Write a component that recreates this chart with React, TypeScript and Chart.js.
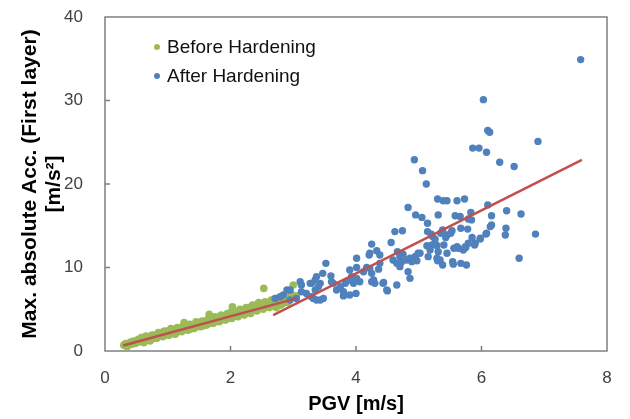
import React, { useEffect, useRef } from "react";
import { Chart, registerables } from "chart.js";

Chart.register(...registerables);

// ---- Data ----
const beforeX = [
  0.30, 0.33, 0.36, 0.38, 0.40, 0.43, 0.46, 0.50, 0.53, 0.55, 0.56, 0.60, 0.63, 0.66, 0.68, 0.70,
  0.73, 0.76, 0.78, 0.80, 0.83, 0.86, 0.88, 0.90, 0.93, 0.96, 0.98, 1.00, 1.03, 1.06, 1.08, 1.10,
  1.13, 1.16, 1.18, 1.20, 1.23, 1.26, 1.28, 1.30, 1.33, 1.36, 1.38, 1.40, 1.43, 1.46, 1.48, 1.50,
  1.53, 1.56, 1.58, 1.60, 1.63, 1.66, 1.68, 1.70, 1.73, 1.76, 1.78, 1.80, 1.83, 1.86, 1.88, 1.90,
  1.93, 1.96, 1.98, 2.00, 2.03, 2.06, 2.08, 2.10, 2.13, 2.16, 2.18, 2.20, 2.23, 2.26, 2.28, 2.30,
  2.33, 2.36, 2.38, 2.40, 2.43, 2.46, 2.48, 2.50, 2.53, 2.56, 2.58, 2.60, 2.63, 2.66, 2.68, 2.70,
  2.73, 2.76, 2.78, 2.80, 2.85, 2.88, 2.90, 2.95, 3.00, 3.05,
  0.35, 0.42, 0.48, 0.52, 0.58, 0.62, 0.65, 0.72, 0.75, 0.82, 0.85, 0.92, 0.95, 1.02, 1.05, 1.12,
  1.15, 1.22, 1.25, 1.32, 1.35, 1.42, 1.45, 1.52, 1.55, 1.62, 1.65, 1.72, 1.75, 1.82, 1.85, 1.92,
  1.95, 2.02, 2.05, 2.12, 2.15, 2.22, 2.25, 2.32, 2.35, 2.42, 2.45, 2.52, 2.55, 2.62, 2.65, 2.72,
  2.75, 2.82, 2.87, 2.92, 2.97,
];
const beforeY = [
  0.7, 0.9, 0.6, 0.8, 1.0, 0.8, 1.2, 1.0, 1.4, 1.3, 1.1, 1.5, 1.2, 1.6, 1.4, 1.3,
  1.8, 1.5, 1.7, 1.9, 1.6, 2.0, 2.1, 1.8, 2.3, 1.9, 2.2, 2.4, 2.0, 2.5, 2.3, 2.1,
  2.6, 2.3, 2.5, 2.8, 2.4, 3.4, 2.9, 2.7, 3.0, 2.6, 2.9, 3.1, 2.8, 3.3, 3.1, 3.0,
  3.5, 3.0, 3.3, 3.6, 3.2, 4.4, 3.7, 3.4, 3.9, 3.5, 3.8, 4.0, 3.6, 4.2, 4.0, 3.8,
  4.3, 3.9, 4.2, 4.6, 5.3, 4.2, 4.5, 4.7, 4.3, 4.9, 4.6, 4.5, 5.0, 4.6, 4.9, 5.2,
  4.8, 5.4, 5.1, 4.9, 5.6, 5.1, 5.3, 5.5, 7.5, 5.3, 5.6, 5.8, 5.4, 6.0, 5.7, 5.6,
  5.2, 5.9, 5.8, 5.5, 6.1, 6.0, 5.8, 6.4, 7.9, 6.6,
  0.5, 1.1, 0.9, 1.2, 1.6, 1.0, 1.8, 1.2, 1.9, 1.5, 2.2, 1.7, 2.4, 1.9, 2.7, 2.0,
  2.8, 2.3, 3.0, 2.5, 3.2, 2.7, 3.5, 2.9, 3.6, 3.1, 3.9, 3.3, 4.1, 3.5, 4.3, 3.7,
  4.5, 3.9, 4.8, 4.1, 5.0, 4.3, 5.2, 4.5, 5.5, 4.8, 5.8, 5.0, 5.9, 5.2, 6.1, 5.4,
  6.3, 5.6, 6.5, 5.9, 6.8,
];

const afterX = [
  7.58, 6.03, 6.10, 6.13, 6.90, 5.86, 5.96, 6.08, 4.93, 6.29, 6.52, 5.06, 5.12, 5.30, 5.39, 5.45,
  5.61, 5.73, 4.83, 6.10, 6.40, 4.95, 5.05, 5.31, 5.58, 5.66, 5.83, 5.79, 5.84, 6.16, 6.63, 5.14,
  4.62, 4.74, 5.14, 5.38, 5.45, 5.53, 5.67, 5.78, 6.14, 6.39, 6.38, 6.86, 6.07, 5.98, 5.85, 4.25,
  4.56, 5.22, 5.13, 5.21, 5.29, 5.40, 5.56, 5.61, 5.71, 5.75, 5.89, 6.60, 4.33, 4.21, 4.01, 4.66,
  4.70, 4.75, 4.81, 4.86, 4.94, 4.99, 4.97, 5.15, 5.29, 5.31, 5.45, 5.30, 5.38, 5.54, 5.55, 5.67,
  5.76, 4.59, 4.65, 4.70, 3.52, 4.01, 4.17, 4.25, 4.36, 4.83, 4.86, 3.90, 3.93, 4.01, 4.06, 4.25,
  4.43, 4.65, 4.50, 3.80, 4.00, 3.64, 3.75, 3.83, 3.11, 3.27, 3.37, 3.40, 3.32, 3.43, 3.48, 3.21,
  3.35, 4.12, 4.30, 3.35, 3.43, 3.29, 3.13, 3.61, 3.90, 3.96, 3.69, 3.80, 3.90, 3.13, 3.29, 3.37,
  2.95, 2.84, 2.90, 2.71, 2.79, 2.95, 3.05, 4.28, 4.44, 4.49, 4.22, 4.38, 4.73, 4.89, 5.02, 5.18,
  5.26, 5.34, 5.63, 5.74, 5.79, 5.90, 5.98, 6.08, 6.16, 5.20, 5.26, 5.35, 5.43, 5.51, 4.22, 4.38,
  3.47, 3.60,
];
const afterY = [
  34.9, 30.1, 26.4, 26.2, 25.1, 24.3, 24.3, 23.8, 22.9, 22.6, 22.1, 21.6, 20.0, 18.2, 18.0, 18.0,
  18.0, 18.2, 17.2, 17.5, 16.8, 16.3, 16.0, 16.3, 16.2, 16.1, 16.6, 15.8, 15.7, 16.2, 16.4, 15.3,
  14.3, 14.4, 14.3, 14.5, 13.9, 14.4, 14.7, 14.6, 14.9, 14.7, 13.9, 14.0, 14.0, 13.4, 13.6, 12.8,
  13.0, 13.7, 12.6, 12.7, 12.6, 12.7, 12.3, 12.5, 12.1, 12.4, 12.7, 11.1, 12.0, 11.5, 11.1, 11.9,
  11.3, 11.6, 10.9, 11.1, 11.3, 11.7, 10.8, 11.3, 11.1, 11.9, 11.7, 10.8, 10.3, 10.7, 10.4, 10.5,
  10.3, 10.9, 10.5, 10.1, 10.5, 10.0, 10.0, 9.3, 9.8, 9.5, 8.7, 9.7, 8.9, 8.7, 8.3, 8.3,
  8.1, 7.9, 7.2, 6.6, 6.9, 8.1, 7.7, 8.1, 8.3, 8.1, 8.9, 7.7, 6.3, 6.1, 6.3, 6.9,
  7.3, 9.5, 8.1, 8.5, 8.1, 8.1, 7.9, 8.3, 8.5, 8.1, 7.3, 7.1, 6.7, 7.1, 6.5, 6.1,
  7.3, 6.7, 7.3, 6.3, 6.5, 6.1, 6.3, 8.5, 8.2, 7.3, 9.9, 10.5, 10.7, 10.7, 11.7, 12.1,
  12.9, 10.9, 12.3, 12.5, 12.9, 12.9, 13.5, 14.1, 15.1, 14.0, 13.4, 14.1, 13.6, 14.1, 11.7, 11.5,
  9.3, 9.0,
];

const fitBeforeX = [0.29, 3.05];
const fitBeforeY = [0.65, 6.3];
const fitAfterX = [2.68, 7.6];
const fitAfterY = [4.3, 22.9];

const seriesNames = ["Before Hardening", "After Hardening"];
const xTitle = "PGV [m/s]";
const yTitle = ["Max. absolute Acc. (First layer)", "[m/s\u00B2]"];

const GREEN = "#9BBB59";
const BLUE = "#4F81BD";
const RED = "#C0504D";
const AXIS = "#7f7f7f";
const FONT = "'Liberation Sans', Arial, sans-serif";

const toPts = (xs: number[], ys: number[]) => xs.map((x, i) => ({ x, y: ys[i] }));

const framePlugin = {
  id: "frameTicks",
  beforeDatasetsDraw(chart: any) {
    const { ctx, chartArea: a, scales } = chart;
    ctx.save();
    ctx.strokeStyle = AXIS;
    ctx.lineWidth = 1.5;
    ctx.strokeRect(a.left, a.top, a.right - a.left, a.bottom - a.top);
    ctx.beginPath();
    scales.x.ticks.forEach((t: any) => {
      if (t.value > scales.x.min && t.value < scales.x.max) {
        const px = scales.x.getPixelForValue(t.value);
        ctx.moveTo(px, a.bottom);
        ctx.lineTo(px, a.bottom - 5);
      }
    });
    scales.y.ticks.forEach((t: any) => {
      if (t.value > scales.y.min && t.value < scales.y.max) {
        const py = scales.y.getPixelForValue(t.value);
        ctx.moveTo(a.left, py);
        ctx.lineTo(a.left + 5, py);
      }
    });
    ctx.stroke();
    ctx.restore();
  },
};

const legendPlugin = {
  id: "insideLegend",
  afterDraw(chart: any) {
    const { ctx, chartArea: a } = chart;
    ctx.save();
    ctx.font = `19px ${FONT}`;
    ctx.textBaseline = "middle";
    ctx.textAlign = "left";
    seriesNames.forEach((name, i) => {
      const ds = chart.data.datasets.find((d: any) => d.label === name);
      if (!ds) return;
      const cx = a.left + 52;
      const cy = a.top + 30 + i * 29;
      ctx.fillStyle = ds.backgroundColor;
      ctx.beginPath();
      ctx.arc(cx, cy, 3, 0, Math.PI * 2);
      ctx.fill();
      ctx.fillStyle = "#111";
      ctx.fillText(ds.label, cx + 10, cy + 1);
    });
    ctx.restore();
  },
};

export default function App() {
  const ref = useRef<HTMLCanvasElement | null>(null);
  useEffect(() => {
    if (!ref.current) return;
    const chart = new Chart(ref.current, {
      type: "scatter",
      data: {
        datasets: [
          {
            label: "fit1",
            data: toPts(fitBeforeX, fitBeforeY),
            showLine: true,
            borderColor: RED,
            borderWidth: 2.5,
            pointRadius: 0,
            backgroundColor: RED,
            order: 0,
          } as any,
          {
            label: "fit2",
            data: toPts(fitAfterX, fitAfterY),
            showLine: true,
            borderColor: RED,
            borderWidth: 2.5,
            pointRadius: 0,
            backgroundColor: RED,
            order: 0,
          },
          {
            label: seriesNames[0],
            data: toPts(beforeX, beforeY),
            backgroundColor: GREEN,
            borderColor: GREEN,
            borderWidth: 0,
            pointRadius: 3.8,
            order: 2,
          },
          {
            label: seriesNames[1],
            data: toPts(afterX, afterY),
            backgroundColor: BLUE,
            borderColor: BLUE,
            borderWidth: 0,
            pointRadius: 3.7,
            order: 1,
          },
        ],
      },
      options: {
        animation: false,
        responsive: false,
        maintainAspectRatio: false,
        layout: { padding: { top: 17, right: 23, left: 0, bottom: 0 } },
        plugins: {
          legend: { display: false },
          tooltip: { enabled: false },
        },
        scales: {
          x: {
            type: "linear",
            min: 0,
            max: 8,
            ticks: {
              stepSize: 2,
              padding: 17,
              color: "#404040",
              font: { family: FONT, size: 17 },
              maxRotation: 0,
            },
            grid: { display: false, drawTicks: false },
            border: { display: false },
            title: {
              display: true,
              text: xTitle,
              color: "#000",
              font: { family: FONT, size: 20, weight: "bold", lineHeight: 1.2 },
              padding: { top: 0, bottom: 3 },
            },
            afterFit: (s: any) => {
              s.height = 68;
              s.paddingLeft = 0;
              s.paddingRight = 0;
            },
          },
          y: {
            type: "linear",
            min: 0,
            max: 40,
            ticks: {
              stepSize: 10,
              padding: 22,
              color: "#404040",
              font: { family: FONT, size: 17 },
            },
            grid: { display: false, drawTicks: false },
            border: { display: false },
            title: {
              display: true,
              text: yTitle,
              color: "#000",
              font: { family: FONT, size: 21, weight: "bold", lineHeight: 1.15 },
              padding: { top: 18, bottom: 0 },
            },
            afterFit: (s: any) => {
              s.width = 105;
              s.paddingTop = 0;
              s.paddingBottom = 0;
            },
          },
        },
      },
      plugins: [framePlugin, legendPlugin],
    });
    return () => chart.destroy();
  }, []);
  return (
    <div style={{ position: "fixed", left: 0, top: 0, width: 630, height: 419, background: "#fff" }}>
      <canvas ref={ref} width={630} height={419} style={{ width: 630, height: 419 }} />
    </div>
  );
}
